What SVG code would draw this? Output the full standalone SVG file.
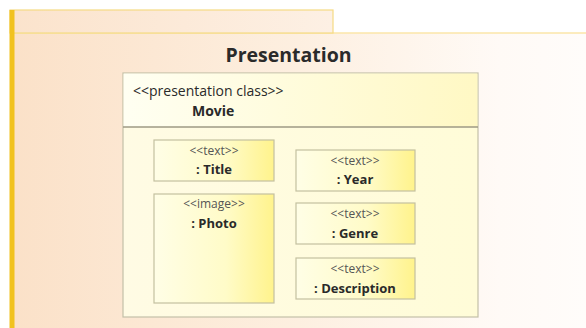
<svg xmlns="http://www.w3.org/2000/svg" width="586" height="328" viewBox="0 0 586 328">
<defs>
<linearGradient id="bg" x1="0" y1="0" x2="1" y2="0">
<stop offset="0" stop-color="#fbe1c8"/>
<stop offset="0.5" stop-color="#fdefe0"/>
<stop offset="0.85" stop-color="#fffaf6"/>
<stop offset="1" stop-color="#fffcfa"/>
</linearGradient>
<linearGradient id="tab" x1="0" y1="0" x2="1" y2="0">
<stop offset="0" stop-color="#fbe3cc"/>
<stop offset="1" stop-color="#fdf0e4"/>
</linearGradient>
<linearGradient id="hdr" x1="0" y1="0" x2="1" y2="0">
<stop offset="0" stop-color="#fffff2"/>
<stop offset="1" stop-color="#fff8c4"/>
</linearGradient>
<linearGradient id="cls" x1="0" y1="0" x2="1" y2="0">
<stop offset="0" stop-color="#fffbe4"/>
<stop offset="1" stop-color="#fffcd8"/>
</linearGradient>
<linearGradient id="part" x1="0" y1="0" x2="1" y2="0">
<stop offset="0" stop-color="#fffee6"/>
<stop offset="0.6" stop-color="#fffbc8"/>
<stop offset="1" stop-color="#fff38c"/>
</linearGradient>
</defs>
<style>
.lbl{font-family:"Open Sans","Liberation Sans",sans-serif;fill:#2a2a2a}
.st{font-size:12px;fill:#555;text-anchor:middle}
.nm{font-size:13px;font-weight:bold;text-anchor:middle}
.part{fill:url(#part);stroke:#c4c0a0;stroke-width:1.2}
</style>
<rect x="0" y="0" width="586" height="328" fill="#ffffff"/>
<g id="package">
<rect x="10" y="33" width="576" height="295" fill="url(#bg)"/>
<line x1="10" y1="33" x2="586" y2="33" stroke="#fbe6a8" stroke-width="1.5"/>
<rect x="10" y="10" width="323" height="23" fill="url(#tab)" stroke="#f6db84" stroke-width="1.2"/>
<rect x="9.5" y="10" width="5" height="318" fill="#f1c21f"/>
<text class="lbl" x="288.5" y="62" font-size="19.5" font-weight="bold" text-anchor="middle">Presentation</text>
</g>
<g id="movie">
<rect x="123" y="73" width="355" height="244" fill="url(#cls)" stroke="#c4c0a8" stroke-width="1.2"/>
<rect x="123.6" y="73.6" width="353.8" height="53.4" fill="url(#hdr)"/>
<line x1="123" y1="127" x2="478" y2="127" stroke="#9e9a84" stroke-width="1.3"/>
<text class="lbl" x="133" y="95.5" font-size="14" fill="#333">&lt;&lt;presentation class&gt;&gt;</text>
<text class="lbl" x="192" y="116" font-size="14" font-weight="bold">Movie</text>
</g>
<g id="title">
<rect class="part" x="154" y="140" width="120" height="41"/>
<text class="lbl st" x="214" y="155">&lt;&lt;text&gt;&gt;</text>
<text class="lbl nm" x="214" y="174">: Title</text>
</g>
<g id="photo">
<rect class="part" x="154" y="194" width="120" height="109"/>
<text class="lbl st" x="214" y="208">&lt;&lt;image&gt;&gt;</text>
<text class="lbl nm" x="214" y="228">: Photo</text>
</g>
<g id="year">
<rect class="part" x="296" y="150" width="119" height="41"/>
<text class="lbl st" x="355" y="165">&lt;&lt;text&gt;&gt;</text>
<text class="lbl nm" x="355" y="184">: Year</text>
</g>
<g id="genre">
<rect class="part" x="296" y="203" width="119" height="41"/>
<text class="lbl st" x="355" y="218">&lt;&lt;text&gt;&gt;</text>
<text class="lbl nm" x="355" y="238">: Genre</text>
</g>
<g id="description">
<rect class="part" x="296" y="258" width="119" height="41"/>
<text class="lbl st" x="355" y="273">&lt;&lt;text&gt;&gt;</text>
<text class="lbl nm" x="355" y="293">: Description</text>
</g>
<g id="connectors"/>
</svg>
